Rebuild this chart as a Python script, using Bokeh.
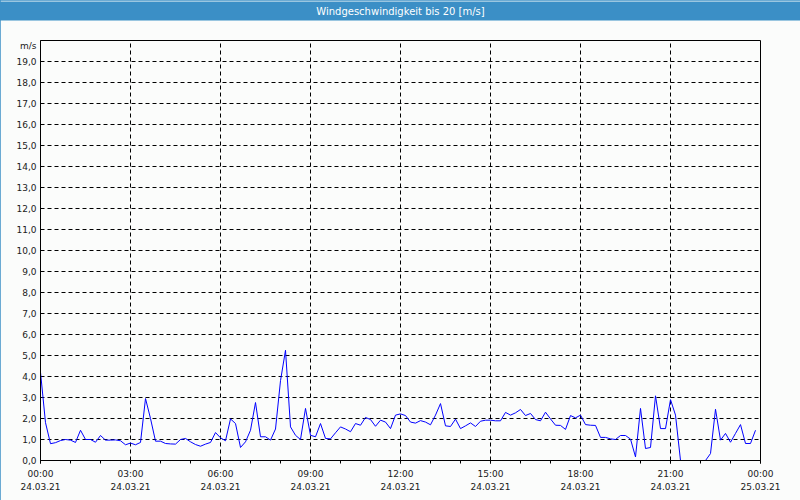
import pandas as pd
from bokeh.plotting import figure
from bokeh.models import (FixedTicker, DatetimeTickFormatter, DatetimeAxis,
                          Range1d, Title)
from bokeh.embed import file_html
from bokeh.resources import INLINE

# ---------------- data ----------------
title_text = "Windgeschwindigkeit bis 20 [m/s]"
unit_text = "m/s"
start_time = "2021-03-24 00:00"
end_time = "2021-03-25 00:00"
sample_step = "10min"

wind_speed = [
    4.2, 1.8, 0.8, 0.85, 0.95, 1.0, 0.97, 0.86, 1.44, 1.0, 1.0, 0.87,
    1.19, 0.97, 0.97, 0.98, 0.94, 0.75, 0.83, 0.75, 0.86, 2.95, 2.0, 0.92,
    0.92, 0.81, 0.79, 0.78, 1.0, 1.05, 0.89, 0.76, 0.68, 0.78, 0.86, 1.33,
    1.08, 0.94, 1.98, 1.76, 0.62, 0.89, 1.44, 2.76, 1.13, 1.13, 0.97, 1.5,
    3.8, 5.25, 1.6, 1.2, 1.0, 2.48, 1.2, 1.13, 1.76, 1.05, 1.03, 1.32,
    1.6, 1.5, 1.37, 1.76, 1.68, 2.05, 1.95, 1.63, 1.92, 1.83, 1.52, 2.16,
    2.22, 2.14, 1.83, 1.78, 1.9, 1.83, 1.7, 2.16, 2.71, 1.65, 1.62, 1.97,
    1.52, 1.65, 1.79, 1.62, 1.87, 1.92, 1.92, 1.89, 1.89, 2.29, 2.16, 2.27,
    2.43, 2.14, 2.24, 1.95, 1.89, 2.3, 1.98, 1.68, 1.67, 1.48, 2.14, 2.03,
    2.16, 1.71, 1.68, 1.67, 1.1, 1.1, 1.03, 1.0, 1.19, 1.19, 1.02, 0.17,
    2.48, 0.57, 0.62, 3.08, 1.52, 1.52, 2.9, 2.16, 0.0, 0.0, 0.0, 0.0,
    0.0, 0.0, 0.33, 2.44, 0.97, 1.29, 0.87, 1.29, 1.71, 0.81, 0.81, 1.44,
]

major_tick_times = ["2021-03-24 00:00", "2021-03-24 03:00", "2021-03-24 06:00",
                    "2021-03-24 09:00", "2021-03-24 12:00", "2021-03-24 15:00",
                    "2021-03-24 18:00", "2021-03-24 21:00", "2021-03-25 00:00"]
y_tick_values = list(range(20))
y_tick_labels = ["%d,0" % v for v in y_tick_values]
unit_tick_value = 19.75  # where the "m/s" caption sits on the value axis

# ---------------- styling ----------------
BG = "#fbfcfb"
BAR = "#3b8fc6"
TXT = "#202020"
FONT = "DejaVu Sans"

times = pd.date_range(start_time, periods=len(wind_speed), freq=sample_step)
t0 = pd.Timestamp(start_time)
t1 = pd.Timestamp(end_time)


def ms(ts):
    return pd.Timestamp(ts).value // 10**6


major_ms = [ms(t) for t in major_tick_times]
minor_ms = [ms(t) for t in pd.date_range(start_time, end_time, freq="1h")]

p = figure(width=800, height=500, x_axis_type="datetime",
           output_backend="svg", toolbar_location=None,
           x_range=Range1d(t0, t1), y_range=Range1d(0, 20),
           min_border_left=40, min_border_right=40,
           min_border_top=40, min_border_bottom=40,
           background_fill_color=BG, border_fill_color=BG,
           outline_line_color="black", outline_line_width=1)
p.styles = {"outline": "1px solid " + BAR, "outline-offset": "-1px"}
p.title.text = ""

p.line(times, wind_speed, line_color="#0000ff", line_width=1)

ticker = FixedTicker(ticks=major_ms, minor_ticks=minor_ms)
fmt_time = "%H:%M"
fmt_date = "%d.%m.%y"


def dt_fmt(f):
    return DatetimeTickFormatter(microseconds=f, milliseconds=f, seconds=f,
                                 minsec=f, minutes=f, hourmin=f, hours=f,
                                 days=f, months=f, years=f)


xa = p.xaxis[0]
xa.ticker = ticker
xa.formatter = dt_fmt(fmt_time)
xa.axis_line_color = "black"
xa.major_tick_out = 3
xa.major_tick_in = 0
xa.minor_tick_out = 3
xa.minor_tick_in = 0
xa.major_tick_line_color = "black"
xa.minor_tick_line_color = "black"
xa.major_label_standoff = 5
xa.major_label_text_font = FONT
xa.major_label_text_font_size = "9px"
xa.major_label_text_color = TXT

xa2 = DatetimeAxis(ticker=ticker, formatter=dt_fmt(fmt_date))
xa2.axis_line_color = None
xa2.major_tick_line_color = None
xa2.minor_tick_line_color = None
xa2.major_tick_out = 0
xa2.major_tick_in = 0
xa2.major_label_standoff = -3
xa2.major_label_text_font = FONT
xa2.major_label_text_font_size = "9px"
xa2.major_label_text_color = TXT
p.add_layout(xa2, "below")

ya = p.yaxis[0]
ya.ticker = FixedTicker(ticks=y_tick_values + [unit_tick_value])
overrides = dict(zip(y_tick_values, y_tick_labels))
overrides[unit_tick_value] = unit_text
ya.major_label_overrides = overrides
ya.axis_line_color = "black"
ya.major_tick_out = 0
ya.major_tick_in = 0
ya.major_tick_line_color = None
ya.minor_tick_line_color = None
ya.major_label_standoff = 4
ya.major_label_text_font = FONT
ya.major_label_text_font_size = "9px"
ya.major_label_text_color = TXT

for g in (p.xgrid[0], p.ygrid[0]):
    g.grid_line_color = "black"
    g.grid_line_dash = "4 3"
    g.grid_line_width = 1
p.xgrid[0].ticker = FixedTicker(ticks=major_ms)
p.ygrid[0].ticker = FixedTicker(ticks=y_tick_values)

# spacer between the plot frame and the title bar (about 18 px high)
p.add_layout(Title(text=" ", text_font_size="1px", standoff=14.8,
                   background_fill_color=None), "above")
# title bar: the title's background, padded out to the full width
p.add_layout(Title(text=title_text, align="center", vertical_align="top",
                   text_color="white", text_font=FONT, text_font_size="10px",
                   text_font_style="normal", background_fill_color=BAR,
                   standoff=0,
                   padding=dict(left=420, right=420, top=4, bottom=4)),
             "above")

open("out.html", "w").write(file_html(p, INLINE))
